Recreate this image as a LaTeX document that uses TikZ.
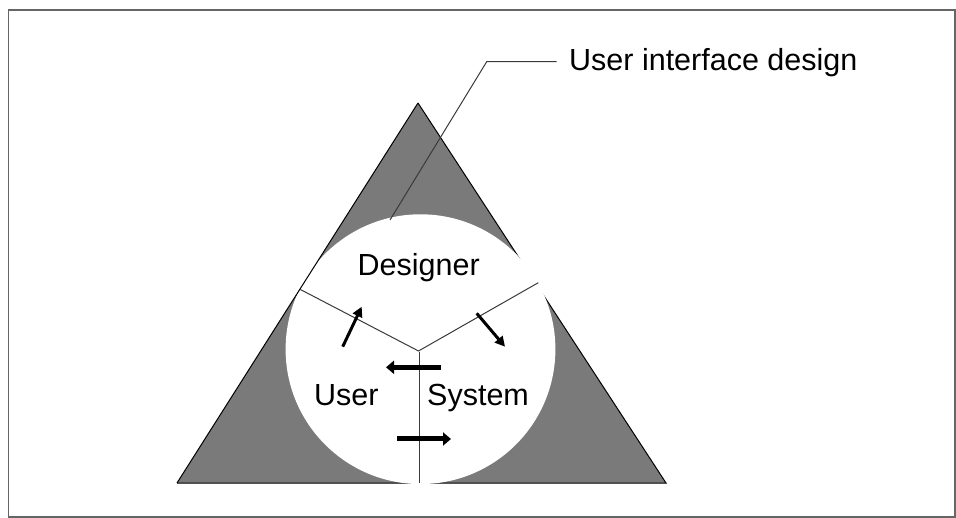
\documentclass[tikz,border=0pt]{standalone}
\usepackage{fontspec}
\setmainfont{Liberation Sans}
\usetikzlibrary{arrows.meta}
\definecolor{halftone}{HTML}{7A7A7A}
\definecolor{inkline}{HTML}{3A3A3A}
\begin{document}
\begin{tikzpicture}[x=1pt,y=-1pt,
  caption/.style={inner sep=0pt,font=\fontsize{30.5}{36}\selectfont},
  thinline/.style={draw=inkline,line width=1pt},
  flow/.style={line width=3pt,-{Triangle[length=10pt,width=10pt]}},
  bigflow/.style={line width=5pt,-{Triangle[length=8pt,width=13pt]}}]
\useasboundingbox (0,0) rectangle (956,518);
% outer frame
\draw[line width=1.2pt,draw=black!60] (8.5,10) rectangle (955,517);
% shaded triangle
\coordinate (apex) at (418,103);
\coordinate (bl) at (177,483);
\coordinate (br) at (666,483);
\fill[halftone] (apex) -- (bl) -- (br) -- cycle;
\draw[line width=1pt] (apex) -- (br) -- (bl);
% white disc cut out of the triangle
\fill[white] (420.5,349.2) circle[radius=134.9pt];
\draw[line width=1pt] (apex) -- (bl);
% the three partitions
\coordinate (hub) at (418.5,351);
\coordinate (yl) at (300,289.3);
\coordinate (yr) at (538.3,282.7);
\coordinate (ytop) at (419,352);
\coordinate (yb) at (419,483);
\draw[thinline] (yl) -- (hub) -- (yr);
\draw[thinline] (ytop) -- (yb);
% labels
\node[caption,anchor=base] (designer) at (418.7,276) {Designer};
\node[caption,anchor=base west] (user) at (314,406) {User};
\node[caption,anchor=base west] (system) at (427,406) {System};
\node[caption,anchor=base west] (title) at (569,71) {User interface design};
% leader line to the title
\coordinate (lead0) at (390,220);
\coordinate (lead1) at (486.7,61.7);
\coordinate (lead2) at (556.7,61.7);
\draw[thinline] (lead0) -- (lead1) -- (lead2);
% flow arrows
\coordinate (a1s) at (342.7,346.7); \coordinate (a1e) at (361.7,306.7);
\coordinate (a2s) at (476.7,313.3); \coordinate (a2e) at (505,346.7);
\coordinate (a3s) at (440.7,367.3); \coordinate (a3e) at (386,367.3);
\coordinate (a4s) at (397.3,439);   \coordinate (a4e) at (451,439);
\draw[flow] (a1s) -- (a1e);
\draw[flow] (a2s) -- (a2e);
\draw[bigflow] (a3s) -- (a3e);
\draw[bigflow] (a4s) -- (a4e);
\end{tikzpicture}
\end{document}
